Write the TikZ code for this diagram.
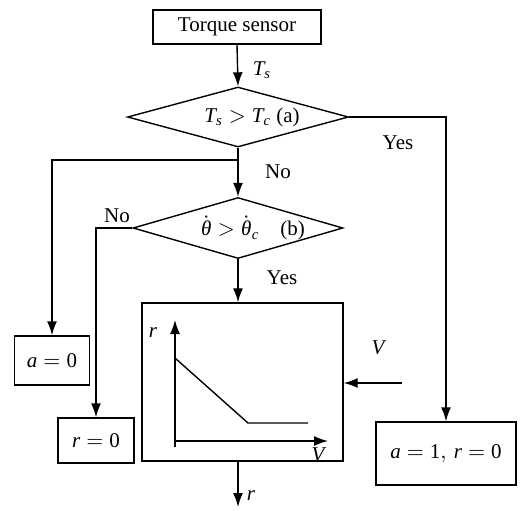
\documentclass[tikz,border=0pt]{standalone}
\usepackage{mathspec}
\setmainfont{Liberation Serif}
\setmathsfont(Digits,Latin,Greek){Liberation Serif}
\usetikzlibrary{shapes.geometric,arrows.meta}
\begin{document}
\begin{tikzpicture}[x=0.5pt,y=-0.5pt,line width=0.7pt,
  font=\fontsize{10.5}{12}\selectfont,
  box/.style={draw,rectangle,inner sep=0pt},
  dia/.style={draw,diamond,inner sep=0pt},
  arr/.style={-{Latex[length=7pt,width=5pt]}},
  lbl/.style={inner sep=0pt}]
\useasboundingbox (0,0) rectangle (528,510);
% boxes
\node[box,minimum width=84pt,minimum height=17pt] (ts) at (237,27) {Torque sensor};
\node[dia,minimum width=110.5pt,minimum height=30pt] (da) at (238,117)
  {\makebox[0pt]{\hspace{14pt}$T_s > T_c$ (a)}};
\node[dia,minimum width=105pt,minimum height=30.5pt] (db) at (238,228)
  {\makebox[0pt]{\hspace{15pt}$\dot\theta > \dot\theta_c$\quad(b)}};
\node[box,minimum width=37.5pt,minimum height=24.5pt] (a0) at (52,360.5) {$a=0$};
\node[box,minimum width=38pt,minimum height=22.5pt] (r0) at (96,440.5) {$r=0$};
\node[box,minimum width=100.5pt,minimum height=79pt] (gb) at (242.5,382) {};
\node[box,minimum width=70pt,minimum height=31.5pt] (a1) at (446,453.5) {$a=1,\, r=0$};
% coordinates
\coordinate (n1) at (238,160);
\coordinate (out) at (238,507);
\coordinate (vin) at (402,383);
% connectors
\draw[arr] (ts.south) -- (da.north);
\draw[arr] (da.east) -| (a1.north);
\draw[arr] (da.south) -- (db.north);
\draw[arr] (n1) -| (a0.north);
\draw[arr] (db.west) -| (r0.north);
\draw[arr] (db.south) -- (db.south |- gb.north);
\draw[arr] (db.south |- gb.south) -- (out);
\draw[arr] (vin) -- (gb.east |- vin);
% graph inside
\draw[arr] (175,447) -- (175,320);
\draw[arr] (175,441) -- (328,441);
\draw (175,358) -- (248,423) -- (308,423);
% labels
\node[lbl] at (262,70) {$T_s$};
\node[lbl] at (398,143) {Yes};
\node[lbl] at (278,172) {No};
\node[lbl] at (117,216) {No};
\node[lbl] at (282,278) {Yes};
\node[lbl] at (153,333) {$r$};
\node[lbl] at (318,455) {$V$};
\node[lbl] at (378,348) {$V$};
\node[lbl] at (251,496) {$r$};
\end{tikzpicture}
\end{document}
